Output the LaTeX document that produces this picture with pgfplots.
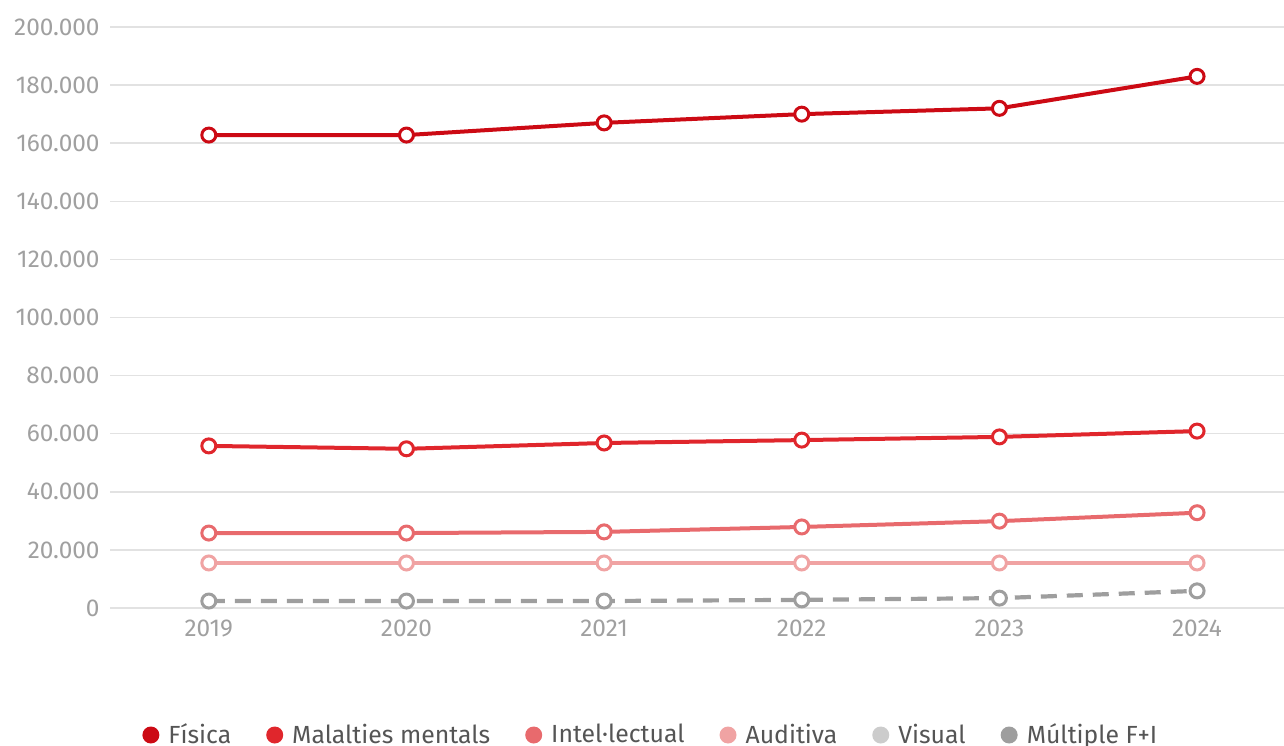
\documentclass[border=0pt]{standalone}
\usepackage{pgfplots}
\pgfplotsset{compat=1.18}
\usepackage{fontspec}
\setmainfont{Fira Sans}
\definecolor{cfis}{HTML}{CC0A14}
\definecolor{cmal}{HTML}{E0262C}
\definecolor{cint}{HTML}{E86A6D}
\definecolor{caud}{HTML}{F0A3A3}
\definecolor{cvis}{HTML}{CCCCCC}
\definecolor{cmul}{HTML}{9E9E9E}
\definecolor{ctick}{HTML}{A0A0A0}
\definecolor{cgrid}{HTML}{E2E2E2}
\definecolor{cleg}{HTML}{555555}
\begin{document}
\begin{tikzpicture}
\begin{axis}[
  at={(0,0)}, anchor=south west,
  scale only axis, width=587pt, height=290.5pt,
  xmin=-0.5, xmax=5.44, ymin=0, ymax=200000,
  axis line style={draw=none},
  major tick length=0pt,
  xtick={0,1,2,3,4,5},
  xticklabels={2019,2020,2021,2022,2023,2024},
  ytick={0,20000,...,200000},
  scaled y ticks=false,
  ymajorgrids, grid style={cgrid, line width=0.75pt},
  yticklabel={\pgfmathprintnumber[fixed, precision=0, 1000 sep={.}, assume math mode=true]{\tick}},
  tick label style={font=\fontsize{12.2}{14}\selectfont, text=ctick},
  yticklabel style={anchor=east, inner sep=0pt, xshift=-5pt},
  xticklabel style={anchor=north, inner sep=0pt, yshift=-6pt},
  clip=false,
  every axis plot/.append style={line width=2pt, mark=*, mark size=3.5pt, mark options={fill=white, line width=1.5pt, solid}},
  legend image code/.code={\fill[draw=none] (4.25pt,0) circle (4.25pt); \path (0,0) (10pt,0);},
  legend style={at={(15pt,-63.5pt)}, anchor=west, draw=none, fill=none,
    legend columns=6, font=\fontsize{12.4}{14}\selectfont, text=cleg,
    /tikz/every even column/.append style={column sep=14.5pt},
    inner sep=0pt},
  legend cell align=left,
]
\addplot[color=cfis] coordinates {(0,162800) (1,162800) (2,167000) (3,170000) (4,172000) (5,183000)};
\addlegendentry{Física}
\addplot[color=cmal] coordinates {(0,55800) (1,54800) (2,56800) (3,57800) (4,58900) (5,60900)};
\addlegendentry{Malalties mentals}
\addplot[color=cint] coordinates {(0,25800) (1,25800) (2,26200) (3,27900) (4,29900) (5,32800)};
\addlegendentry{Intel·lectual}
\addplot[color=caud] coordinates {(0,15500) (1,15500) (2,15500) (3,15500) (4,15500) (5,15500)};
\addlegendentry{Auditiva}
\addlegendimage{color=cvis}
\addlegendentry{Visual}
\addplot[color=cmul, line width=2.1pt, dash pattern=on 8pt off 5pt] coordinates {(0,2400) (1,2400) (2,2400) (3,2800) (4,3400) (5,5900)};
\addlegendentry{Múltiple F+I}
\end{axis}
\pgfresetboundingbox
\useasboundingbox (-55pt,-68.5pt) rectangle (587pt,304pt);
\end{tikzpicture}
\end{document}
